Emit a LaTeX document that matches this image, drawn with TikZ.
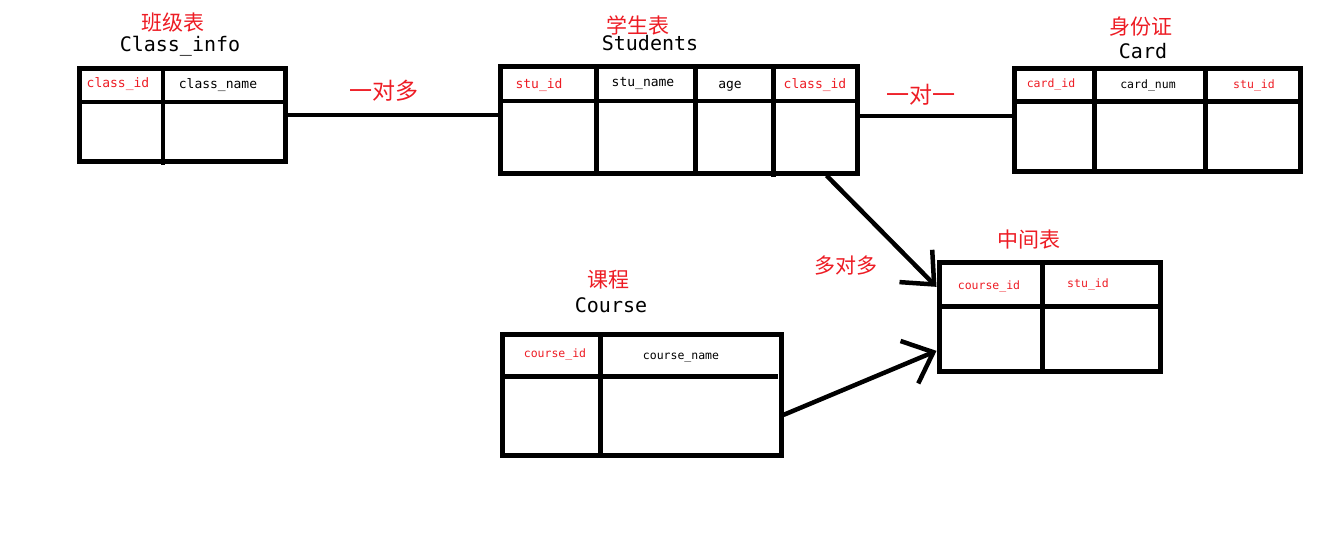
\documentclass[tikz,border=0pt]{standalone}
\usepackage{fontspec}
\setmonofont{DejaVu Sans Mono}
\newfontfamily\cjk{Noto Sans CJK SC}
\usetikzlibrary{arrows.meta}
\definecolor{paintred}{RGB}{237,28,36}
\tikzset{
  tbl/.style={draw, line width=5pt, inner sep=0pt},
  divline/.style={line width=4.5pt},
  fld/.style={font=\ttfamily\fontsize{#1}{#1}\selectfont},
  fld/.default=13,
  keyfld/.style={fld=#1, text=paintred},
  keyfld/.default=13,
  tname/.style={font=\ttfamily\fontsize{20}{20}\selectfont},
  cnlabel/.style={font=\cjk\fontsize{#1}{#1}\selectfont, text=paintred},
  cnlabel/.default=21,
  relline/.style={line width=4.5pt},
  manyarrow/.style={relline, -{Straight Barb[length=26pt, width=46pt]}}
}

\begin{document}
\begin{tikzpicture}[x=1pt, y=-1pt]
\useasboundingbox (0,0) rectangle (1340,557);
%tables
\node[tbl, minimum width=206pt, minimum height=93.5pt] (classinfo) at (182.5,114.75) {};
\node[tbl, minimum width=357pt, minimum height=106.3pt] (students) at (678.5,119.85) {};
\node[tbl, minimum width=285.3pt, minimum height=103.8pt] (card) at (1157.35,119.9) {};
\node[tbl, minimum width=221pt, minimum height=108.3pt] (mid) at (1049.5,316.85) {};
\node[tbl, minimum width=278.5pt, minimum height=120.2pt] (course) at (641.75,394.9) {};
%header rows
\draw[divline] (79.5,102) -- (288,102);
\draw[divline] (500,101) -- (857,101);
\draw[divline] (1014.7,101.3) -- (1300,101.3);
\draw[divline] (939,306.7) -- (1160,306.7);
\draw[divline] (502.5,376.3) -- (778,376.3);
%columns
\draw[divline] (163,70) -- (163,165);
\draw[divline] (596.5,69) -- (596.5,173);
\draw[divline] (695.5,69) -- (695.5,173);
\draw[divline] (773.5,69) -- (773.5,177);
\draw[divline] (1094.7,70) -- (1094.7,171.8);
\draw[divline] (1205.7,70) -- (1205.7,171.8);
\draw[divline] (1042.5,264) -- (1042.5,371);
\draw[divline] (600.3,337) -- (600.3,458);
%titles
\node[cnlabel] (t1) at (172.5,22.7) {班级表};
\node[tname] (n1) at (180,46.7) {Class\_info};
\node[cnlabel] (t2) at (638,25) {学生表};
\node[tname] (n2) at (650,43.5) {Students};
\node[cnlabel] (t3) at (1141,27) {身份证};
\node[tname] (n3) at (1143,51.5) {Card};
\node[cnlabel] (t4) at (1029,240) {中间表};
\node[cnlabel] (t5) at (608,280) {课程};
\node[tname] (n5) at (611,305.5) {Course};
%fields
\node[keyfld] (ci1) at (118,84.5) {class\_id};
\node[fld] (ci2) at (218,85.5) {class\_name};
\node[keyfld] (st1) at (539,85) {stu\_id};
\node[fld] (st2) at (643,83) {stu\_name};
\node[fld] (st3) at (730,86) {age};
\node[keyfld] (st4) at (815,85) {class\_id};
\node[keyfld=11.5] (ca1) at (1051,84) {card\_id};
\node[fld=11.5] (ca2) at (1148,85) {card\_num};
\node[keyfld=11.5] (ca3) at (1254,85) {stu\_id};
\node[keyfld=11.5] (mi1) at (989,286) {course\_id};
\node[keyfld=11.5] (mi2) at (1088,284) {stu\_id};
\node[keyfld=11.5] (co1) at (555,354) {course\_id};
\node[fld=11.5] (co2) at (681,358) {course\_name};
%relations
\node[cnlabel=23] (r1) at (384,91) {一对多};
\node[cnlabel=23] (r2) at (921,95) {一对一};
\node[cnlabel] (r3) at (846,266) {多对多};
\coordinate (c1) at ([yshift=4pt]card.west);
\draw[relline] (classinfo.east) -- (classinfo.east -| students.west);
\draw[relline] (c1 -| students.east) -- (c1);
\draw[manyarrow] ([xshift=-33pt]students.south east) -- ([yshift=30pt]mid.west);
\draw[manyarrow] ([yshift=-20pt]course.east) -- ([yshift=-34pt]mid.west);

\end{tikzpicture}
\end{document}
